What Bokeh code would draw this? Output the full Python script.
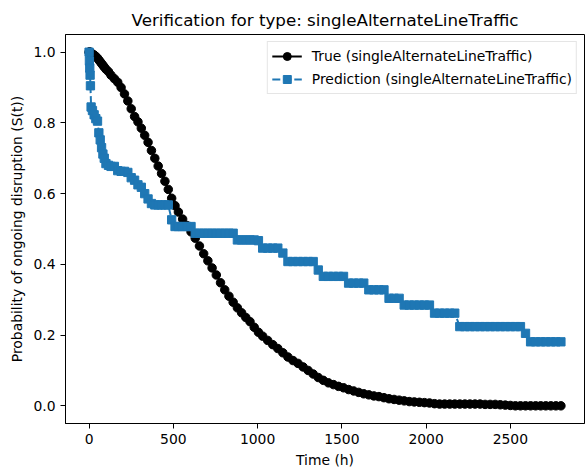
from bokeh.plotting import figure
from bokeh.models import Range1d, FixedTicker, PrintfTickFormatter, Legend, LegendItem
from bokeh.embed import file_html
from bokeh.resources import INLINE

title_text = "Verification for type: singleAlternateLineTraffic"
x_label = "Time (h)"
y_label = "Probability of ongoing disruption (S(t))"
true_name = "True (singleAlternateLineTraffic)"
pred_name = "Prediction (singleAlternateLineTraffic)"

x_ticks = [0, 500, 1000, 1500, 2000, 2500]
y_ticks = [0.0, 0.2, 0.4, 0.6, 0.8, 1.0]

times = [0, 2, 4, 6, 8, 12, 20, 30, 40, 50, 58, 66, 74, 82, 90, 100, 115, 130,
         150, 170, 190, 210, 230, 250, 270, 290, 310, 330, 350, 370, 390, 410,
         430, 450, 470, 490, 510, 530, 555, 580, 605, 630, 655, 680, 705, 730,
         755, 780, 805, 830, 855, 880, 905, 930, 955, 980, 1005, 1030, 1060,
         1090, 1120, 1150, 1180, 1210, 1240, 1270, 1300, 1330, 1360, 1390, 1420,
         1450, 1480, 1510, 1540, 1570, 1600, 1630, 1660, 1690, 1720, 1750, 1780,
         1810, 1840, 1870, 1900, 1930, 1960, 1990, 2020, 2050, 2080, 2110, 2140,
         2170, 2200, 2230, 2260, 2290, 2320, 2350, 2380, 2410, 2440, 2470, 2500,
         2530, 2560, 2590, 2620, 2650, 2680, 2710, 2740, 2770, 2800]

true_s = [1.0, 1.0, 1.0, 1.0, 0.998, 0.997, 0.995, 0.992, 0.988, 0.983, 0.978,
          0.973, 0.968, 0.963, 0.958, 0.952, 0.945, 0.935, 0.925, 0.915, 0.9,
          0.882, 0.862, 0.84, 0.818, 0.803, 0.785, 0.765, 0.745, 0.722, 0.7,
          0.678, 0.657, 0.635, 0.612, 0.587, 0.566, 0.548, 0.528, 0.51, 0.492,
          0.474, 0.452, 0.43, 0.41, 0.39, 0.37, 0.348, 0.328, 0.31, 0.293,
          0.277, 0.263, 0.25, 0.238, 0.222, 0.208, 0.197, 0.185, 0.173, 0.162,
          0.15, 0.138, 0.128, 0.12, 0.11, 0.1, 0.09, 0.08, 0.072, 0.065, 0.06,
          0.055, 0.051, 0.046, 0.042, 0.038, 0.034, 0.031, 0.028, 0.026, 0.023,
          0.02, 0.018, 0.016, 0.014, 0.012, 0.011, 0.01, 0.009, 0.008, 0.006,
          0.005, 0.005, 0.005, 0.005, 0.005, 0.005, 0.005, 0.005, 0.005, 0.004,
          0.004, 0.004, 0.003, 0.002, 0.001, 0.0, 0.0, 0.0, 0.0, 0.0, 0.0, 0.0,
          0.0, 0.0, 0.0]

pred_s = [1.0, 0.975, 0.955, 0.935, 0.905, 0.845, 0.835, 0.823, 0.812, 0.805,
          0.772, 0.752, 0.73, 0.712, 0.7, 0.685, 0.68, 0.677, 0.677, 0.665,
          0.663, 0.663, 0.66, 0.645, 0.638, 0.625, 0.618, 0.6, 0.585, 0.572,
          0.568, 0.568, 0.568, 0.568, 0.568, 0.526, 0.507, 0.507, 0.507, 0.507,
          0.507, 0.488, 0.488, 0.488, 0.488, 0.488, 0.488, 0.488, 0.488, 0.488,
          0.488, 0.469, 0.469, 0.469, 0.469, 0.469, 0.467, 0.446, 0.446, 0.446,
          0.446, 0.432, 0.408, 0.408, 0.408, 0.408, 0.408, 0.408, 0.384, 0.366,
          0.366, 0.366, 0.366, 0.366, 0.347, 0.347, 0.347, 0.347, 0.328, 0.328,
          0.328, 0.328, 0.304, 0.304, 0.304, 0.285, 0.285, 0.285, 0.285, 0.285,
          0.285, 0.262, 0.262, 0.262, 0.262, 0.262, 0.224, 0.224, 0.224, 0.224,
          0.224, 0.224, 0.224, 0.224, 0.224, 0.224, 0.224, 0.224, 0.224, 0.205,
          0.181, 0.181, 0.181, 0.181, 0.181, 0.181, 0.181]

FONT = "DejaVu Sans"
BLUE = "#1f77b4"

p = figure(width=585, height=470, output_backend="svg", toolbar_location=None,
           x_range=Range1d(-140, 2940), y_range=Range1d(-0.05, 1.05),
           min_border_left=65, min_border_right=1, min_border_top=34,
           min_border_bottom=46)
p.background_fill_color = "white"
p.border_fill_color = "white"
p.grid.visible = False
p.outline_line_color = "black"
p.outline_line_width = 1

p.title.text = title_text
p.title.align = "center"
p.title.text_font = FONT
p.title.text_font_size = "16.7px"
p.title.text_font_style = "normal"
p.title.text_color = "black"

for ax in (p.xaxis[0], p.yaxis[0]):
    ax.axis_line_color = "black"
    ax.major_tick_line_color = "black"
    ax.major_tick_out = 5
    ax.major_tick_in = 0
    ax.minor_tick_line_color = None
    ax.major_label_text_font = FONT
    ax.major_label_text_font_size = "13.9px"
    ax.major_label_text_color = "black"
    ax.axis_label_text_font = FONT
    ax.axis_label_text_font_size = "13.9px"
    ax.axis_label_text_font_style = "normal"
    ax.axis_label_text_color = "black"
    ax.major_label_standoff = 5
    ax.axis_label_standoff = 5

p.xaxis[0].ticker = FixedTicker(ticks=x_ticks)
p.yaxis[0].ticker = FixedTicker(ticks=y_ticks)
p.yaxis[0].formatter = PrintfTickFormatter(format="%.1f")
p.xaxis[0].axis_label = x_label
p.yaxis[0].axis_label = y_label

t_line = p.line(times, true_s, line_color="black", line_width=2)
t_pts = p.scatter(times, true_s, marker="circle", size=8.5, fill_color="black",
                  line_color="black")
p_line = p.line(times, pred_s, line_color=BLUE, line_width=2, line_dash="8 3")
p_pts = p.scatter(times, pred_s, marker="square", size=8.3, fill_color=BLUE,
                  line_color=BLUE)

legend = Legend(items=[LegendItem(label=true_name, renderers=[t_line, t_pts]),
                       LegendItem(label=pred_name, renderers=[p_line, p_pts])],
                location="top_right")
legend.margin = 7
legend.padding = 4
legend.spacing = 3
legend.glyph_width = 30
legend.glyph_height = 20
legend.label_height = 20
legend.label_standoff = 10
legend.label_text_font = FONT
legend.label_text_font_size = "13.9px"
legend.label_text_color = "black"
legend.border_line_color = "#cccccc"
legend.border_line_width = 1
legend.background_fill_alpha = 0.8
p.add_layout(legend)

open("out.html", "w").write(file_html(p, INLINE))
